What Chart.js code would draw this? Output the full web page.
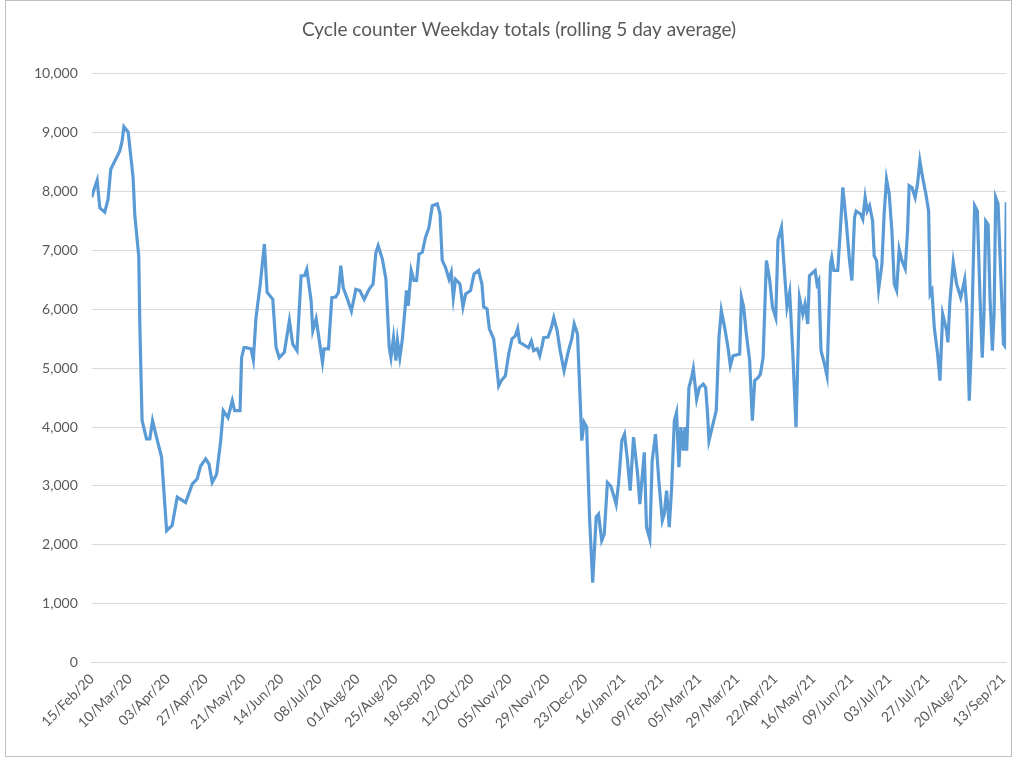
<!DOCTYPE html>
<html>
<head>
<meta charset="utf-8">
<script src="https://cdn.jsdelivr.net/npm/chart.js@4"></script>
<style>
body{margin:0;background:#fff;}
#box{position:absolute;left:5px;top:0px;width:1005px;height:755px;border:1px solid #bfbfbf;overflow:hidden;}
</style>
</head>
<body>
<div id="box"><canvas id="myChart" width="1012" height="755"></canvas></div>
<script>
// days since 15/Feb/20 and the rolling 5 day average
let dayValues=[0,1,3.4,5.1,8.2,10.3,12,14.6,17.7,19.2,20.3,23,26.1,27.2,29.7,30.4,31.8,34.6,36.7,38.4,40.9,44.1,47.3,50.8,54,59.3,63.5,66.6,68.8,72,74.1,76.1,78.9,81.5,83.1,86.1,88.8,90.3,93.7,94.7,96.2,
 97.5,100.6,102.1,103.8,106.5,109.1,110.8,114.4,116.5,118.5,121.7,124.9,127,129.7,132.3,134.4,135.9,138.6,139.7,141.8,144.7,145.8,146.8,149.6,151.7,154.2,155.9,157.4,158.9,161.6,164.1,166.9,169.4,172.2,175.3,177.8,179.6,181,183.7,185.9,188,189.1,190.7,192.2,193.2,
 194.7,196.2,197.7,198.9,200,201.9,203.6,205.3,206.8,208.9,210.9,213.1,215.2,218.4,220.1,221.5,223.6,225.8,227.2,228.5,229.9,232.7,234.6,236.3,239.4,241.6,244.5,246.6,247.7,249.8,251.3,254,255.5,257.2,258.9,261.4,263.5,265.6,267.7,269.2,270.4,274.1,276.1,277.8,279.3,281.5,283.1,284.6,285.6,288.4,290.5,292,294.1,
 296,298.5,301.3,303.4,304.9,307,308.7,309.7,311.2,312.8,314.6,316.6,318.8,320.3,322.3,323.9,325.9,328,330.2,331.4,332.9,335,336.7,338.6,340.3,342.4,345,346.4,349.2,350.6,352.7,354.2,356.3,358.4,360.6,361.8,363.3,365,366.5,368.2,369.6,371.1,372.3,373.9,374.9,376,377.4,379.1,380.2,382.3,384,386.5,388,389.2,390.1,
 392.6,394.7,396.4,397.9,400,402.1,403.6,405.3,409.5,410.6,412,413.7,415.8,417.5,419,421.1,422.6,424.3,426.4,428.5,430.2,432.3,433.7,435.9,437.3,439.4,441.1,443,445.1,447.3,449.4,450.8,452.5,453.6,457.2,458.4,459.5,460.9,463.1,464.7,466.9,467.7,469,471.5,473.2,474.7,476.8,478.9,480.4,482.1,483.1,485.9,487.3,488.8,490.1,491.6,
 493.5,494.5,496,497.3,499.4,500.8,502.3,504,505.7,507.2,508.7,510.3,512,514.1,515.6,516.6,518.4,520.4,521.9,523.4,525.1,527.2,528.9,529.9,531,532.5,534.6,536.1,537.8,540.3,541.1,542.4,544.5,546.6,549.2,551.7,553,554.6,555.9,558,559.7,561.4,562.8,563.9,565,566.5,567.7,569.2,570.3,571.3,572.8,574.5,576.2,577,578];
let cycleValues=[7900,8000,8190,7720,7650,7870,8380,8520,8690,8860,9100,9010,8240,7600,6900,5690,4110,3800,3800,4110,3830,3490,2240,2330,2810,2720,3030,3120,3340,3460,3370,3060,3200,3770,4280,4160,4450,4280,4280,5180,5350,
 5350,5330,5140,5860,6430,7110,6290,6170,5350,5180,5270,5810,5410,5300,6570,6570,6680,6150,5640,5840,5300,5100,5330,5330,6200,6210,6290,6740,6370,6170,5970,6340,6320,6170,6340,6430,6970,7080,6850,6510,5350,5180,5520,5130,5470,
 5180,5470,5920,6320,6060,6660,6490,6490,6940,6970,7220,7390,7760,7790,7620,6830,6710,6510,6630,6200,6510,6430,6040,6260,6320,6600,6660,6430,6040,6010,5670,5500,5130,4700,4790,4870,5240,5500,5550,5670,5440,5380,5350,5460,5300,5330,5210,5380,5520,5530,5690,5860,5640,
 5300,4960,5300,5500,5750,5580,4450,3770,4080,4000,2470,1360,2470,2520,2070,2180,3060,3000,2810,2690,3030,3770,3880,3430,2920,3830,3200,2690,3570,2300,2100,3430,3880,3090,2410,2520,2920,2300,2980,4110,4250,3320,4000,3600,4000,3600,4670,4840,4990,4470,4670,4730,4670,4220,3770,
 4050,4280,5520,5980,5690,5350,5040,5210,5240,6200,6040,5580,5130,4110,4790,4840,4900,5180,6830,6490,6040,5860,7180,7390,6830,6040,6290,5300,4000,6200,5920,6090,5750,6570,6660,6430,6490,5300,5070,4870,6770,6880,6660,6660,7390,8070,7500,6830,6490,7560,7670,7620,7530,7900,7670,7760,
 7500,6910,6830,6340,6770,7620,8210,7960,7330,6430,6320,7020,6830,6690,7330,8100,8070,7900,8130,8520,8240,7960,7670,6260,6320,5690,5240,4790,5920,5640,5440,6150,6800,6430,6200,6510,6040,4450,5350,7760,7670,6200,5180,5920,7500,7440,6200,5300,5920,7900,7790,6600,5410,5380,7820];
let tickLabels=['15/Feb/20','10/Mar/20','03/Apr/20','27/Apr/20','21/May/20','14/Jun/20','08/Jul/20','01/Aug/20','25/Aug/20','18/Sep/20','12/Oct/20','05/Nov/20','29/Nov/20','23/Dec/20','16/Jan/21','09/Feb/21','05/Mar/21','29/Mar/21','22/Apr/21','16/May/21','09/Jun/21','03/Jul/21','27/Jul/21','20/Aug/21','13/Sep/21'];
let tickStep=24;

let points=[];
for (let i=0;i<dayValues.length;i++){
  points.push({x:dayValues[i],y:cycleValues[i]});
}

let fontName="Lato, 'Open Sans', sans-serif";
let grey="#595959";

new Chart("myChart",{
  type:"line",
  data:{
    datasets:[{
      data:points,
      borderColor:"#5b9bd5",
      borderWidth:3.2,
      pointRadius:0,
      fill:false,
      tension:0
    }]
  },
  options:{
    responsive:false,
    animation:false,
    layout:{padding:{left:14,right:0,top:11,bottom:20}},
    plugins:{
      legend:{display:false},
      tooltip:{enabled:false},
      title:{
        display:true,
        text:"Cycle counter Weekday totals (rolling 5 day average)",
        color:grey,
        font:{family:fontName,size:19,weight:"normal"},
        padding:{top:6,bottom:33}
      }
    },
    scales:{
      x:{
        type:"linear",
        min:0,
        max:578,
        afterBuildTicks:function(axis){
          let t=[];
          for (let i=0;i<tickLabels.length;i++){ t.push({value:i*tickStep}); }
          axis.ticks=t;
        },
        ticks:{
          autoSkip:false,
          minRotation:45,
          maxRotation:45,
          color:grey,
          font:{family:fontName,size:14},
          callback:function(v){ return tickLabels[Math.round(v/tickStep)]; }
        },
        grid:{display:false,drawTicks:true,tickLength:5,color:"#d9d9d9"},
        border:{display:true,color:"#d9d9d9"}
      },
      y:{
        min:0,
        max:10000,
        ticks:{
          stepSize:1000,
          color:grey,
          padding:14,
          font:{family:fontName,size:14},
          callback:function(v){ return v.toLocaleString("en-US"); }
        },
        grid:{color:"#d9d9d9",drawTicks:false},
        border:{display:false}
      }
    }
  }
});
</script>
</body>
</html>
